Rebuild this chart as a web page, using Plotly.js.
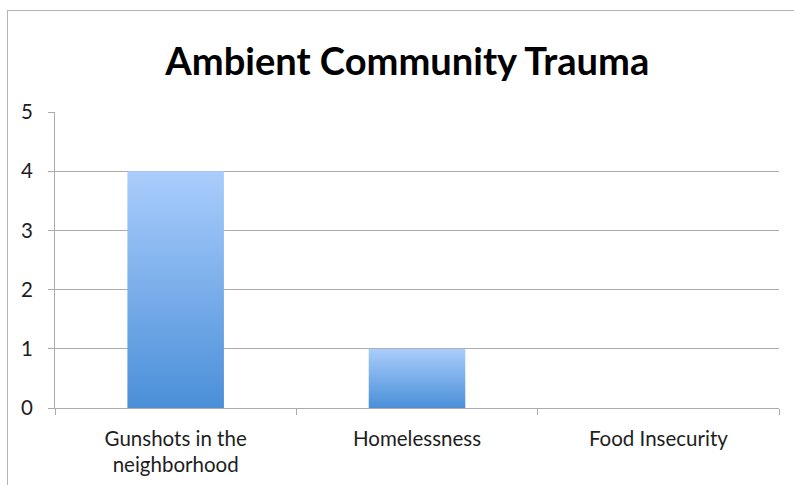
<!DOCTYPE html>
<html>
<head>
<meta charset="utf-8">
<script src="https://cdn.plot.ly/plotly-3.0.1.min.js"></script>
<style>
html,body{margin:0;padding:0;background:#fff;}
#chart{width:794px;height:485px;position:relative;}
#frame{position:absolute;left:7px;top:10px;width:800px;height:480px;border-top:1px solid #b4b4b4;border-left:1px solid #b4b4b4;pointer-events:none;}
</style>
</head>
<body>
<div id="chart"></div>
<div id="frame"></div>
<script>
const categories = ["Gunshots in the<br>neighborhood", "Homelessness", "Food Insecurity"];
const values = [4, 1, 0];
const yTicks = [0, 1, 2, 3, 4, 5];
const chartTitle = "Ambient Community Trauma";

const trace = {
  type: "bar",
  x: categories,
  y: values,
  marker: {color: "#74a9ea", line: {width: 0}},
  width: 0.4,
  hoverinfo: "none"
};

const gridColor = "#ababab";
const fontFam = "Lato, 'Open Sans', sans-serif";
const layout = {
  width: 794,
  height: 485,
  margin: {l: 54.5, r: 15, t: 112, b: 77},
  paper_bgcolor: "#ffffff",
  plot_bgcolor: "#ffffff",
  showlegend: false,
  title: {
    text: "<b>" + chartTitle + "</b>",
    font: {family: fontFam, size: 38.1, color: "#000"},
    x: 0.513, xanchor: "center",
    y: 0.872, yanchor: "middle"
  },
  xaxis: {
    type: "category",
    showgrid: false,
    showline: true,
    linecolor: gridColor,
    linewidth: 1,
    ticks: "outside",
    tickson: "boundaries",
    ticklen: 6,
    tickcolor: gridColor,
    tickfont: {family: fontFam, size: 20.5, color: "#1e1e1e"},
    ticklabelstandoff: 12,
    fixedrange: true
  },
  yaxis: {
    range: [0, 5],
    tickvals: yTicks,
    ticktext: yTicks.map(String),
    showgrid: true,
    gridcolor: gridColor,
    gridwidth: 1,
    showline: true,
    linecolor: gridColor,
    linewidth: 1,
    ticks: "outside",
    ticklen: 6,
    tickcolor: gridColor,
    tickfont: {family: fontFam, size: 20.5, color: "#1e1e1e"},
    ticklabelstandoff: 11,
    zeroline: false,
    fixedrange: true
  }
};

Plotly.newPlot("chart", [trace], layout, {staticPlot: true, displayModeBar: false}).then(function(gd){
  const svg = gd.querySelector("svg.main-svg");
  const ns = "http://www.w3.org/2000/svg";
  let defs = svg.querySelector("defs");
  if (!defs) { defs = document.createElementNS(ns, "defs"); svg.insertBefore(defs, svg.firstChild); }
  const g = document.createElementNS(ns, "linearGradient");
  g.setAttribute("id", "barGrad");
  g.setAttribute("x1", "0"); g.setAttribute("y1", "0");
  g.setAttribute("x2", "0"); g.setAttribute("y2", "1");
  const s1 = document.createElementNS(ns, "stop");
  s1.setAttribute("offset", "0"); s1.setAttribute("stop-color", "#aacdfc");
  const s2 = document.createElementNS(ns, "stop");
  s2.setAttribute("offset", "1"); s2.setAttribute("stop-color", "#4a8fd8");
  g.appendChild(s1); g.appendChild(s2);
  defs.appendChild(g);
  gd.querySelectorAll(".bars .point path").forEach(function(p){
    p.style.fill = "url(#barGrad)";
  });
});
</script>
</body>
</html>
